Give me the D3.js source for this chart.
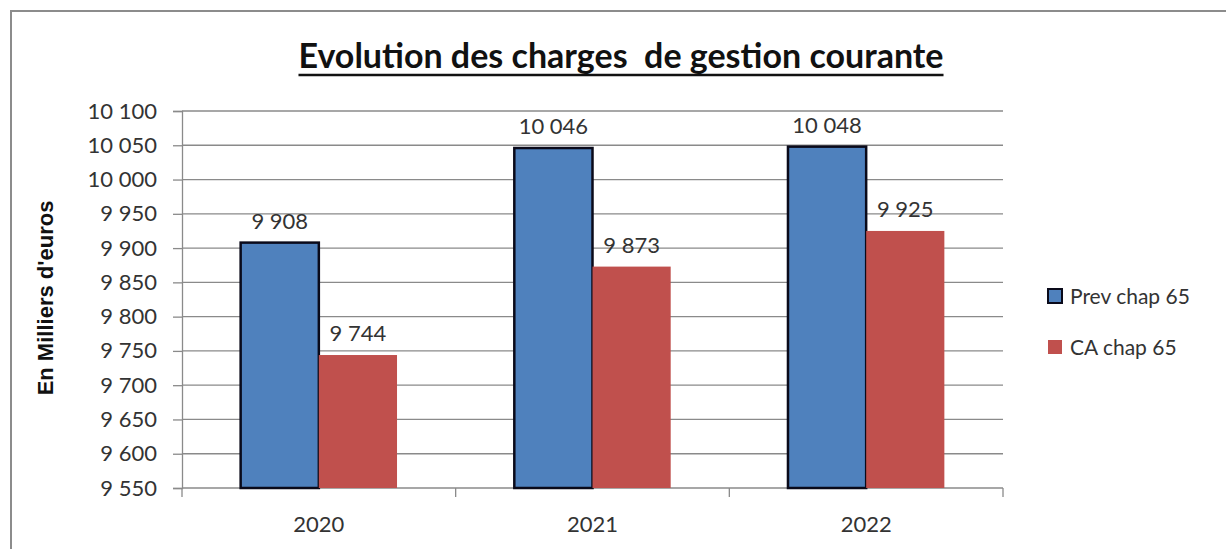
<!DOCTYPE html>
<html><head><meta charset="utf-8">
<script src="https://cdn.jsdelivr.net/npm/d3@7"></script>
<style>body{margin:0;background:#fff;} svg{display:block;}</style>
</head><body>
<script>
const categories = ["2020", "2021", "2022"];
const seriesNames = ["Prev chap 65", "CA chap 65"];
const prevValues = [9908, 10046, 10048];
const caValues = [9744, 9873, 9925];
const yTicks = [9550, 9600, 9650, 9700, 9750, 9800, 9850, 9900, 9950, 10000, 10050, 10100];
const title = "Evolution des charges\u00a0\u00a0de gestion courante";
const yLabel = "En Milliers d'euros";

const W = 1226, H = 549;
const font = "Lato, 'Open Sans', sans-serif";
const svg = d3.select("body").append("svg").attr("width", W).attr("height", H);

svg.append("rect").attr("x", 11).attr("y", 11).attr("width", W + 20).attr("height", H + 20)
  .attr("fill", "#fff").attr("stroke", "#8c8c8c").attr("stroke-width", 2);

const m = {left: 182, right: 1003, top: 111, bottom: 488};
const x0 = d3.scaleBand().domain(categories).range([m.left, m.right]).paddingInner(0).paddingOuter(0);
const y = d3.scaleLinear().domain([9550, 10100]).range([m.bottom, m.top]);
const fmt = v => d3.format(",")(v).replace(/,/g, " ");

// gridlines
svg.append("g").selectAll("line").data(yTicks.filter(t => t !== 9550)).join("line")
  .attr("x1", m.left).attr("x2", m.right).attr("y1", d => y(d)).attr("y2", d => y(d))
  .attr("stroke", "#8a8a8a").attr("stroke-width", 1.3);

// y axis
const yAxis = svg.append("g").attr("transform", `translate(${m.left},0)`)
  .call(d3.axisLeft(y).tickValues(yTicks).tickFormat(fmt).tickSize(9).tickPadding(16));
yAxis.select(".domain").attr("stroke", "#8a8a8a").attr("stroke-width", 1.3);
yAxis.selectAll(".tick line").attr("stroke", "#8a8a8a").attr("stroke-width", 1.3);
yAxis.selectAll("text").attr("font-family", font).attr("font-size", 22).attr("fill", "#333");

// x axis
const xAxis = svg.append("g").attr("transform", `translate(0,${m.bottom})`);
xAxis.append("line").attr("x1", m.left).attr("x2", m.right).attr("y1", 0).attr("y2", 0)
  .attr("stroke", "#8a8a8a").attr("stroke-width", 1.3);
const bounds = categories.map(c => x0(c)).concat([x0(categories[categories.length - 1]) + x0.bandwidth()]);
xAxis.selectAll("line.tk").data(bounds).join("line").attr("class", "tk")
  .attr("x1", d => d).attr("x2", d => d).attr("y1", 0).attr("y2", 9)
  .attr("stroke", "#8a8a8a").attr("stroke-width", 1.3);
xAxis.selectAll("text").data(categories).join("text")
  .attr("x", d => x0(d) + x0.bandwidth() / 2).attr("y", 44)
  .attr("text-anchor", "middle").attr("font-family", font).attr("font-size", 22).attr("fill", "#333")
  .text(d => d);

// bars
const bw = x0.bandwidth() / 3.5;
const colors = ["#4F81BD", "#C0504D"];
const series = [prevValues, caValues];
series.forEach((vals, si) => {
  const g = svg.append("g");
  g.selectAll("rect").data(vals).join("rect")
    .attr("x", (d, i) => x0(categories[i]) + x0.bandwidth() / 2 - bw + si * bw)
    .attr("y", d => y(d))
    .attr("width", bw)
    .attr("height", d => y(9550) - y(d))
    .attr("fill", colors[si])
    .attr("stroke", si === 0 ? "#0a0a1a" : "none")
    .attr("stroke-width", si === 0 ? 2.5 : 0);
  g.selectAll("text").data(vals).join("text")
    .attr("x", (d, i) => x0(categories[i]) + x0.bandwidth() / 2 - bw / 2 + si * bw)
    .attr("y", d => y(d) - 14)
    .attr("text-anchor", "middle").attr("font-family", font).attr("font-size", 22).attr("fill", "#333")
    .text(d => fmt(d));
});

// title
const t = svg.append("text").attr("x", 621).attr("y", 68).attr("text-anchor", "middle")
  .attr("font-family", font).attr("font-weight", "bold").attr("font-size", 34).attr("fill", "#111")
  .text(title);
const bb = t.node().getBBox();
svg.append("line").attr("x1", bb.x).attr("x2", bb.x + bb.width).attr("y1", 75).attr("y2", 75)
  .attr("stroke", "#111").attr("stroke-width", 2.5);

// y label
svg.append("text").attr("transform", "translate(53,298) rotate(-90)").attr("text-anchor", "middle")
  .attr("font-family", "'Liberation Sans', Arial, sans-serif").attr("font-weight", "bold").attr("font-size", 22)
  .attr("fill", "#111").text(yLabel);

// legend
const leg = svg.append("g");
seriesNames.forEach((n, i) => {
  const cy = 296 + i * 51;
  leg.append("rect").attr("x", 1048).attr("y", cy - 7).attr("width", 14).attr("height", 14)
    .attr("fill", colors[i]).attr("stroke", i === 0 ? "#0a0a1a" : "none").attr("stroke-width", 2);
  leg.append("text").attr("x", 1070).attr("y", cy + 8).attr("font-family", font).attr("font-size", 21)
    .attr("fill", "#333").text(n);
});
</script>
</body></html>
